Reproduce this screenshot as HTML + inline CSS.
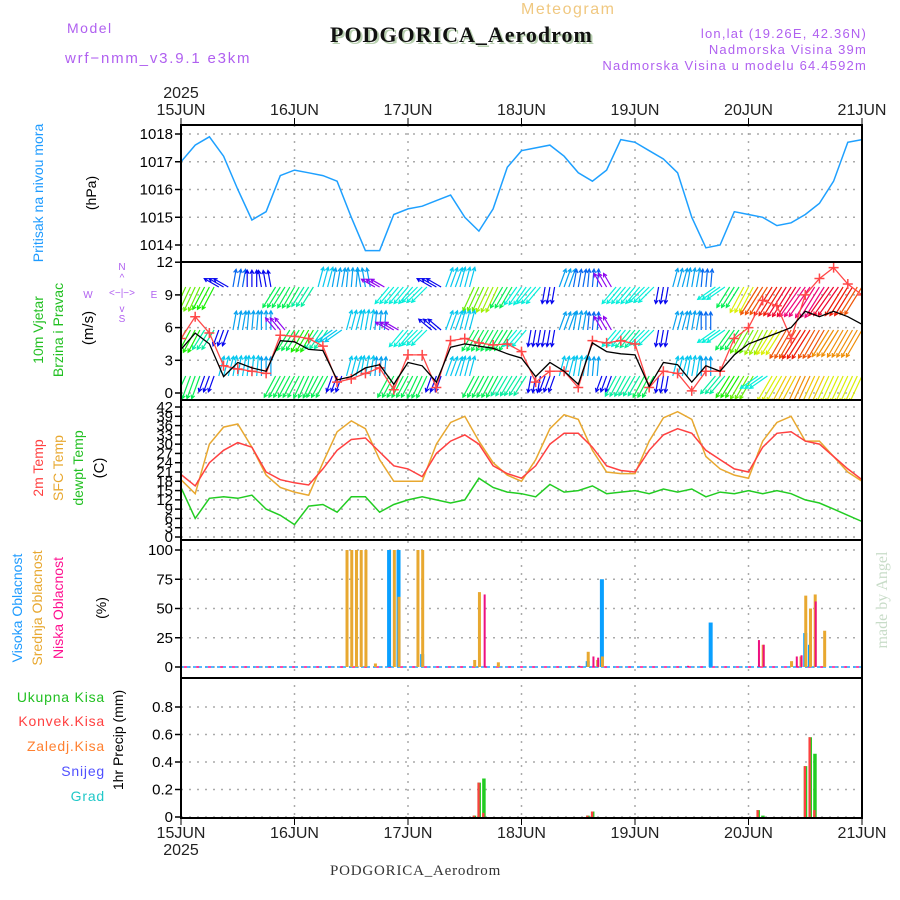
<!DOCTYPE html>
<html><head><meta charset="utf-8"><title>Meteogram PODGORICA_Aerodrom</title>
<style>
html,body{margin:0;padding:0;background:#fff;}
svg{display:block;font-family:"Liberation Sans",sans-serif;}
</style></head>
<body>
<svg id="chart" width="900" height="900" viewBox="0 0 900 900" xmlns="http://www.w3.org/2000/svg">
<rect width="900" height="900" fill="#fff"/>
<g>
<text x="67" y="33" font-size="14" fill="#b060f0" letter-spacing="1.5">Model</text>
<text x="65" y="63" font-size="15" fill="#b060f0" letter-spacing="1.8">wrf−nmm_v3.9.1 e3km</text>
<text x="521" y="14" font-size="16" fill="#f0c880" letter-spacing="1.5">Meteogram</text>
<text x="332" y="44" font-size="22" font-weight="bold" font-family="Liberation Serif, serif" fill="#b8d0b0" letter-spacing="1">PODGORICA_Aerodrom</text>
<text x="330" y="42" font-size="22" font-weight="bold" font-family="Liberation Serif, serif" fill="#111" letter-spacing="1">PODGORICA_Aerodrom</text>
<text x="867" y="38" font-size="13" fill="#b060f0" text-anchor="end" letter-spacing="1.2">lon,lat (19.26E, 42.36N)</text>
<text x="867" y="54" font-size="13" fill="#b060f0" text-anchor="end" letter-spacing="1.2">Nadmorska Visina 39m</text>
<text x="867" y="70" font-size="13" fill="#b060f0" text-anchor="end" letter-spacing="1.2">Nadmorska Visina u modelu 64.4592m</text>
</g>
<g>
<text transform="translate(43,193) rotate(-90)" font-size="14" fill="#1e9bff" text-anchor="middle">Pritisak na nivou mora</text>
<text transform="translate(96,193) rotate(-90)" font-size="14" fill="#000" text-anchor="middle">(hPa)</text>
<text transform="translate(43,330) rotate(-90)" font-size="14" fill="#22c022" text-anchor="middle">10m Vjetar</text>
<text transform="translate(63,330) rotate(-90)" font-size="14" fill="#22c022" text-anchor="middle">Brzina i Pravac</text>
<text transform="translate(93,328) rotate(-90)" font-size="15" fill="#000" text-anchor="middle">(m/s)</text>
<g fill="#b060f0" font-size="10" text-anchor="middle">
<text x="122" y="270">N</text><text x="122" y="322">S</text><text x="88" y="298">W</text><text x="154" y="298">E</text>
<text x="122" y="296">&lt;−|−&gt;</text>
<text x="122" y="281">^</text><text x="122" y="312">v</text>
</g>
<text transform="translate(43,468) rotate(-90)" font-size="14" fill="#ff4040" text-anchor="middle">2m Temp</text>
<text transform="translate(63,468) rotate(-90)" font-size="14" fill="#e8a830" text-anchor="middle">SFC Temp</text>
<text transform="translate(83,468) rotate(-90)" font-size="14" fill="#22c022" text-anchor="middle">dewpt Temp</text>
<text transform="translate(104,468) rotate(-90)" font-size="15" fill="#000" text-anchor="middle">(C)</text>
<text transform="translate(22,608) rotate(-90)" font-size="14" fill="#1e9bff" text-anchor="middle">Visoka Oblacnost</text>
<text transform="translate(42,608) rotate(-90)" font-size="14" fill="#e8a830" text-anchor="middle">Srednja Oblacnost</text>
<text transform="translate(63,608) rotate(-90)" font-size="14" fill="#ff1090" text-anchor="middle">Niska Oblacnost</text>
<text transform="translate(106,608) rotate(-90)" font-size="14" fill="#000" text-anchor="middle">(%)</text>
<g font-size="14" text-anchor="end" letter-spacing="0.8">
<text x="105" y="702" fill="#22c022">Ukupna  Kisa</text>
<text x="105" y="726" fill="#ff4040">Konvek.Kisa</text>
<text x="105" y="751" fill="#ff8030">Zaledj.Kisa</text>
<text x="105" y="776" fill="#5050ff">Snijeg</text>
<text x="105" y="801" fill="#20c8c8">Grad</text>
</g>
<text transform="translate(123,740) rotate(-90)" font-size="14" fill="#000" text-anchor="middle">1hr Precip (mm)</text>
</g>
<text x="330" y="875" font-size="15" font-family="Liberation Serif, serif" fill="#333" letter-spacing="0.8">PODGORICA_Aerodrom</text>
<text transform="translate(887,600) rotate(-90)" font-size="16" font-family="Liberation Serif, serif" fill="#c8dcc8" text-anchor="middle">made by Angel</text>
<g id="plot"></g>
</svg>
<script>
// ---- data (3-hourly from 15JUN 00Z) ----
const dayLabels = ["15JUN","16JUN","17JUN","18JUN","19JUN","20JUN","21JUN"];
const pressure = [1017.0,1017.6,1017.9,1017.2,1016.0,1014.9,1015.2,1016.5,1016.7,1016.6,1016.5,1016.3,1015.0,1013.8,1013.8,1015.1,1015.3,1015.4,1015.6,1015.8,1015.0,1014.5,1015.3,1016.8,1017.4,1017.5,1017.6,1017.2,1016.6,1016.3,1016.7,1017.8,1017.7,1017.4,1017.1,1016.6,1015.0,1013.9,1014.0,1015.2,1015.1,1015.0,1014.7,1014.8,1015.1,1015.5,1016.3,1017.7,1017.8];
const pressureTicks = [1014,1015,1016,1017,1018];
const windSpeed = [4,5.5,4.5,1.5,2.8,2.3,2,4.8,4.7,4.0,3.9,1.2,1.5,2.3,2.6,0.8,2.8,2.5,1,4.2,4.5,4.3,4.1,3.6,3.2,1.5,2.8,2.0,0.8,4.6,3.8,3.6,3.5,0.6,2.8,2.6,1,2.5,2.0,3.5,4.5,5,5.5,6,7.5,7,7.5,7,6.3];
const windGust = [5,7,5.5,2.5,2.2,2,1.8,5.3,5.2,5,4.3,1,1.3,1.8,2.3,0.3,3.5,3.5,0.5,4.8,5,4.6,4.4,4.5,3.8,1,2,2,0.5,4.8,4.6,4.8,4.5,0.5,2,1.8,0.2,2,2,5,6,8.5,8,5,9,10.5,11.5,10,9];
const windTicks = [0,3,6,9,12];
const row1Dir = [205,205,208,300,10,0,350,212,210,212,15,10,5,350,300,220,220,225,300,20,15,205,205,210,215,220,190,20,10,5,330,220,220,225,190,15,10,5,235,212,208,212,212,212,215,212,215,212,212];
const row1Spd = [6,6,5.5,2,2.5,2,2,5,5,4.5,3.5,3,3,3,1.5,4,4,4,2,3.5,3.5,6,6.5,5,4,4,2,3,2.5,2.5,1.5,4,4,4,2,3,3,2.5,4,5,7,8.5,9,9.5,10,10,9.5,9,8.5];
const row2Dir = [205,208,212,200,10,5,0,320,212,210,215,235,15,10,5,300,220,225,310,20,15,210,210,212,220,190,190,20,10,5,330,220,220,225,190,15,10,0,235,215,210,208,212,210,212,210,212,210,210];
const row2Spd = [5.5,5.5,4.5,2,3,3,3,1.5,5,5.5,4.5,3.5,3.5,3.5,3,1.5,4,4,2,3.5,3.5,5,5,5,4,2,2,3,3,2.5,1.5,4,4.5,4,2,3,3,2.5,4,5,6,6.5,7,8.5,9,8.5,8,8,8];
const row3Dir = [205,200,200,15,10,5,0,208,208,205,208,200,15,10,5,208,208,205,200,20,15,208,208,210,212,190,200,15,10,5,200,208,210,208,190,15,10,0,220,212,210,235,210,208,205,205,205,205,205];
const row3Spd = [5,5,2,3.5,3.5,3.5,3,5,5,5,5,2,3.5,3.5,3,5,5,5,2,3.5,3.5,5,5,4.5,4.5,2,2,3.5,3.5,3,2,4.5,4.5,5,2,3.5,3.5,3,4.5,5.5,6,4,7,7.5,8,7.5,7,7,7];
const temp2m = [20.2,16.5,24,28,30.5,29,21,18.5,17.5,16.8,22,28,31.5,32,27.5,23,22,19.5,27,31,33,30,23,20.5,19,23,30,33.5,33.5,29,23,21.5,21,28,33,35,33.5,28,25,22,21,29,33.5,34,31,30,26,22,18.5];
const tempSfc = [18.5,14,30,35.5,36.5,29,20,16,14.5,13.5,24,34,37.5,35,25,18,18,18,30,37,39,31,24,20,18,25,35,39.5,38,28,21,20.5,20.5,31,38.5,40.5,38,26,22,20,19,31,37,39,31,31,26,21,18];
const dewpt = [16,6,12.5,13,12.5,13.5,9,7,4,10,10.5,8,13,13,8,10.5,12,13,12,11,12,19,16,14.5,14,13,17,14.5,15,16.5,14,14.5,15,14,15.5,14.5,15.5,13,14.5,14,15,14,15,14,12,11,9,7,5];
const tempTicks = [0,3,6,9,12,15,18,21,24,27,30,33,36,39,42];
// cloud cover (hour from start, percent)
const highHours = [44,46,51,86,89,112,132,133];
const highVals  = [100,100,11,5,75,38,29,19];
const midHours  = [35,36,37,38,39,41,45,46,50,51,62,63,67,86,88,89,123,129,131,132,133,134,136];
const midVals   = [100,100,100,100,100,3,100,60,100,100,6,64,4,13,6,9,19,5,9,61,50,62,31];
const lowHours  = [64,84,87,88,107,122,123,130,131,134];
const lowVals   = [62,1,9,8,1,23,19,9,10,56];
const cloudTicks = [0,25,50,75,100];
// precipitation (hour, mm)
const precipHours = [62,63,64,86,87,122,123,132,133,134];
const precipTotal = [0.01,0.25,0.28,0.01,0.04,0.05,0.01,0.37,0.58,0.46];
const precipConv  = [0.01,0.25,0.03,0.01,0.04,0.05,0.0,0.37,0.58,0.05];
const precipTicks = [0,0.2,0.4,0.6,0.8];

// ---- layout ----
const NS="http://www.w3.org/2000/svg";
const X0=181, X1=862, HOURS=144;
const xH = h => X0 + h*(X1-X0)/HOURS;
const xI = i => xH(i*3);
const yP = p => 245 - (p-1014)*27.75;
const yW = v => 393 - v*10.9;
const yT = t => 537 - t*3.095;
const yC = c => 667 - c*1.17;
const yR = r => 817 - r*137.5;
const plot=document.getElementById('plot');
function mk(tag,attrs,parent){const e=document.createElementNS(NS,tag);for(const k in attrs)e.setAttribute(k,attrs[k]);(parent||plot).appendChild(e);return e;}
function linePath(arr,fy){return arr.map((v,i)=>(i?'L':'M')+xI(i).toFixed(1)+','+fy(v).toFixed(1)).join('');}

const panels=[[125,262],[262,400],[400,540],[540,678],[678,818]];
// grids
const grid=mk('g',{});


function hgrid(ticks,fy){ticks.forEach(t=>{mk('line',{x1:X0,x2:X1,y1:fy(t),y2:fy(t),stroke:'#aaa','stroke-width':1.5,'stroke-dasharray':'2,6'},grid);});}
hgrid(pressureTicks,yP);hgrid(windTicks,yW);hgrid(tempTicks,yT);hgrid(cloudTicks,yC);hgrid(precipTicks,yR);
for(let d=1;d<6;d++){mk('line',{x1:xH(d*24),x2:xH(d*24),y1:125,y2:818,stroke:'#aaa','stroke-width':1.5,'stroke-dasharray':'2,6'},grid);}

// tick labels
function yLabels(ticks,fy,name,fmt){const g=mk('g',{'font-size':15,'text-anchor':'end',fill:'#000'});


ticks.forEach(t=>{const tx=mk('text',{x:173,y:fy(t)+5},g);tx.textContent=fmt?fmt(t):t;mk('line',{x1:175,x2:181,y1:fy(t),y2:fy(t),stroke:'#000','stroke-width':1.5},g);});}
yLabels(pressureTicks,yP,'pressure-y-ticks');
yLabels(windTicks,yW,'wind-y-ticks');
yLabels(tempTicks,yT,'temp-y-ticks');
yLabels(cloudTicks,yC,'cloud-y-ticks');
yLabels(precipTicks,yR,'precip-y-ticks',t=>t===0?'0':t.toFixed(1));
const xt=mk('g',{'font-size':16,'text-anchor':'middle',fill:'#222'});


dayLabels.forEach((d,i)=>{const x=xH(i*24);
 let t=mk('text',{x:x,y:115},xt);t.textContent=d;
 t=mk('text',{x:x,y:838},xt);t.textContent=d;
 mk('line',{x1:x,x2:x,y1:118,y2:125,stroke:'#000'},xt);
 mk('line',{x1:x,x2:x,y1:818,y2:825,stroke:'#000'},xt);});
let yr=mk('text',{x:181,y:98},xt);yr.textContent='2025';
yr=mk('text',{x:181,y:855},xt);yr.textContent='2025';

// clip
const defs=mk('defs',{});
const cp=mk('clipPath',{id:'clipW'},defs);mk('rect',{x:X0,y:262,width:X1-X0,height:138},cp);

// pressure
const pl=mk('path',{d:linePath(pressure,yP),fill:'none',stroke:'#1ea0ff','stroke-width':1.5});



// wind arrows
const hues=[[1.5,275],[2,240],[2.5,215],[3,200],[3.5,190],[4,175],[4.5,160],[5,140],[5.5,115],[6,95],[6.5,80],[7,65],[7.5,50],[8,35],[8.5,20],[9,5],[9.5,-10],[10,-30]];
function hueFor(s){if(s<=hues[0][0])return hues[0][1];for(let k=1;k<hues.length;k++){if(s<=hues[k][0]){const a=hues[k-1],b=hues[k];return a[1]+(b[1]-a[1])*(s-a[0])/(b[0]-a[0]);}}return hues[hues.length-1][1];}
const wg=mk('g',{'clip-path':'url(#clipW)'});


function arrowRow(dirs,spds,base){dirs.forEach((d,i)=>{const s=spds[i];const L=12+s*2.4;const a=d*Math.PI/180;
 const col='hsl('+((hueFor(s)+360)%360).toFixed(0)+',95%,48%)';
 for(let r=0;r<3;r++){const h=i*3+r-1;if(h<0||h>HOURS)continue;const x=xH(h);
  const tx=x+L*Math.sin(a),ty=base-L*Math.cos(a);
  const ar=mk('path',{d:`M${x.toFixed(1)},${base}L${tx.toFixed(1)},${ty.toFixed(1)}M${(tx-4*Math.sin(a-0.5)).toFixed(1)},${(ty+4*Math.cos(a-0.5)).toFixed(1)}L${tx.toFixed(1)},${ty.toFixed(1)}L${(tx-4*Math.sin(a+0.5)).toFixed(1)},${(ty+4*Math.cos(a+0.5)).toFixed(1)}`,stroke:col,'stroke-width':1.2,fill:'none'},wg);
  
  }});}
arrowRow(row1Dir,row1Spd,287);arrowRow(row2Dir,row2Spd,330);arrowRow(row3Dir,row3Spd,376);
const gl=mk('path',{d:linePath(windGust,yW),fill:'none',stroke:'#ff4848','stroke-width':1.3,'clip-path':'url(#clipW)'});


windGust.forEach((v,i)=>{const x=xI(i),y=yW(v);const c=mk('path',{d:`M${x-5},${y}h10M${x},${y-5}v10`,stroke:'#ff4848','stroke-width':1.5,'clip-path':'url(#clipW)'});
 
 });
const sl=mk('path',{d:linePath(windSpeed,yW),fill:'none',stroke:'#000','stroke-width':1.3});



// temperatures
const t1=mk('path',{d:linePath(tempSfc,yT),fill:'none',stroke:'#e8a830','stroke-width':1.5});


const t2=mk('path',{d:linePath(temp2m,yT),fill:'none',stroke:'#ff4040','stroke-width':1.5});


const t3=mk('path',{d:linePath(dewpt,yT),fill:'none',stroke:'#22cc22','stroke-width':1.5});



// clouds
mk('line',{x1:X0,x2:X1,y1:667,y2:667,stroke:'#1ea0ff','stroke-width':1.5,'stroke-dasharray':'3,3'});
mk('line',{x1:X0+3,x2:X1,y1:667,y2:667,stroke:'#ff1090','stroke-width':1.5,'stroke-dasharray':'3,9'});
function bars(hours,vals,col,w,off,name){hours.forEach((h,i)=>{const x=xH(h)+off;const b=mk('rect',{x:x-w/2,y:yC(vals[i]),width:w,height:yC(0)-yC(vals[i]),fill:col});
 
 });}
bars(highHours,highVals,'#0aa0ff',4,0,'high-cloud-bar');
bars(midHours,midVals,'#e8a830',3,0.5,'mid-cloud-bar');
bars(lowHours,lowVals,'#ee1080',2,1,'low-cloud-bar');

// precip
precipHours.forEach((h,i)=>{const x=xH(h);
 const g=mk('rect',{x:x-1.5,y:yR(precipTotal[i]),width:3.5,height:yR(0)-yR(precipTotal[i]),fill:'#22cc22'});
 
 
 if(precipConv[i]>0){const r=mk('rect',{x:x-1.5,y:yR(precipConv[i]),width:2.3,height:yR(0)-yR(precipConv[i]),fill:'#ff4040'});
 
 }});

// frames
const fr=mk('g',{fill:'none',stroke:'#000','stroke-width':2});


panels.forEach(p=>mk('rect',{x:X0,y:p[0],width:X1-X0,height:p[1]-p[0]},fr));
</script>
</body></html>
